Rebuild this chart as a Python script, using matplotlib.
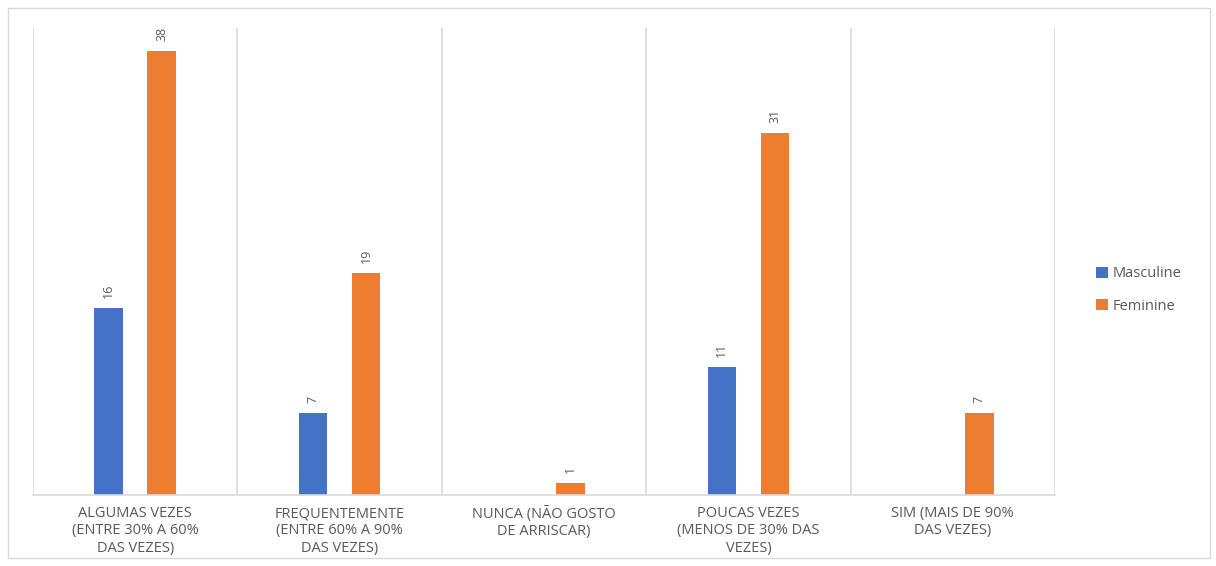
import matplotlib.pyplot as plt
import numpy as np
from matplotlib.patches import Rectangle

# Categorias e valores
categorias = ['ALGUMAS VEZES\n(ENTRE 30% A 60%\nDAS VEZES)',
              'FREQUENTEMENTE\n(ENTRE 60% A 90%\nDAS VEZES)',
              'NUNCA (NÃO GOSTO\nDE ARRISCAR)',
              'POUCAS VEZES\n(MENOS DE 30% DAS\nVEZES)',
              'SIM (MAIS DE 90%\nDAS VEZES)']
masculine = [16, 7, 0, 11, 0]
feminine = [38, 19, 1, 31, 7]

azul = '#4472C4'
laranja = '#ED7D31'
cinza = '#595959'

plt.rcParams['font.family'] = ['Open Sans', 'DejaVu Sans']

fig = plt.figure(figsize=(12.16, 5.66), dpi=100)
ax = fig.add_axes([33/1216, 71/566, 1022/1216, 467/566])

x = np.arange(len(categorias))
w = 0.14
off = 0.13

b1 = ax.bar(x - off, masculine, w, color=azul, label='Masculine')
b2 = ax.bar(x + off, feminine, w, color=laranja, label='Feminine')

# Rótulos de valor (sem rótulo para zero)
for barras, vals in [(b1, masculine), (b2, feminine)]:
    for b, v in zip(barras, vals):
        if v > 0:
            ax.text(b.get_x() + b.get_width() / 2, v + 0.85, str(v),
                    rotation=90, ha='center', va='bottom', fontsize=9, color=cinza)

ax.set_xlim(-0.5, len(categorias) - 0.5)
ax.set_ylim(0, 40)

# Linhas verticais entre categorias
for s in np.arange(-0.5, len(categorias), 1.0):
    ax.axvline(s, color='#D9D9D9', linewidth=1.2, zorder=0)

ax.set_xticks(x)
ax.set_xticklabels(categorias, fontsize=10.5, color=cinza, linespacing=1.2)
ax.tick_params(axis='x', length=0, pad=8)
ax.set_yticks([])
for lado in ['top', 'right', 'left']:
    ax.spines[lado].set_visible(False)
ax.spines['bottom'].set_color('#D9D9D9')
ax.spines['bottom'].set_linewidth(1.2)

fig.legend(loc='center left', bbox_to_anchor=(1083/1216, 1 - 290/566),
           frameon=False, fontsize=10.5, labelcolor=cinza,
           handlelength=0.8, handleheight=0.8, handletextpad=0.3, labelspacing=1.2)

# Borda externa
fig.patches.append(Rectangle((8/1216, 8/566), 1202/1216, 550/566, transform=fig.transFigure,
                             fill=False, edgecolor='#D9D9D9', linewidth=1))

plt.savefig('out.png', dpi=100)
